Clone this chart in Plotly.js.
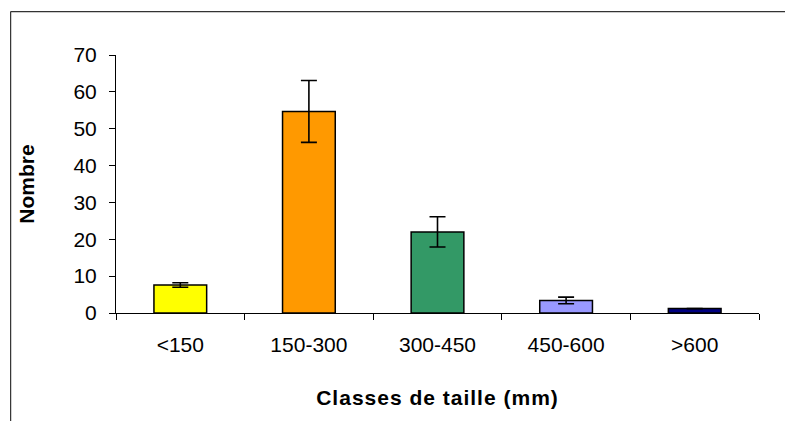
<!DOCTYPE html>
<html>
<head>
<meta charset="utf-8">
<script src="https://cdn.plot.ly/plotly-3.0.1.min.js"></script>
<style>
  html, body { margin: 0; padding: 0; background: #fff; }
  #chart { width: 785px; height: 421px; }
  #chart .xtitle { letter-spacing: 1px; }
</style>
</head>
<body>
<div id="chart"></div>
<script>
const classes = ['<150', '150-300', '300-450', '450-600', '>600'];
const nombre = [7.6, 54.7, 22.0, 3.4, 1.2];
const erreur = [0.6, 8.4, 4.1, 0.9, 0];
const couleurs = ['#FFFF00', '#FF9900', '#339966', '#9999FF', '#000080'];
const yTicks = [0, 10, 20, 30, 40, 50, 60, 70];

document.addEventListener('DOMContentLoaded', function() {
    const chart = document.getElementById('chart');
    const police = 'Arial, "Liberation Sans", sans-serif';

    // plot area in pixels: x 115.5 -> 759.3, y 55 -> 313.3
    const marge = { l: 115.5, r: 25.7, t: 55, b: 107.7 };
    const largeur = 785 - marge.l - marge.r;
    const hauteur = 421 - marge.t - marge.b;
    // outer frame (left and top edges of the chart area)
    const cadreX = (10 - marge.l) / largeur;
    const cadreY = (421 - marge.b - 11.5) / hauteur;

    Plotly.newPlot(chart, [
        {
            type: 'bar',
            x: classes,
            y: nombre,
            width: 0.41,
            marker: { color: couleurs, line: { color: '#000', width: 1.5 } },
            error_y: { type: 'data', array: erreur, visible: true, color: '#000', thickness: 1.6, width: 8 },
            hoverinfo: 'x+y'
        }
    ], {
        width: 785,
        height: 421,
        margin: marge,
        paper_bgcolor: '#fff',
        plot_bgcolor: '#fff',
        showlegend: false,
        font: { family: police, size: 21, color: '#000' },
        xaxis: {
            type: 'category',
            showline: true,
            linecolor: '#000',
            linewidth: 1,
            ticks: 'outside',
            tickson: 'boundaries',
            ticklen: 6,
            tickcolor: '#000',
            ticklabelstandoff: 13,
            showgrid: false,
            zeroline: false,
            tickfont: { family: police, size: 21, color: '#000' },
            title: { text: 'Classes de taille (mm)', font: { family: police, size: 21, color: '#000', weight: 'bold' }, standoff: 35 }
        },
        yaxis: {
            range: [0, 70],
            tickvals: yTicks,
            showline: true,
            linecolor: '#000',
            linewidth: 1,
            ticks: 'outside',
            ticklen: 6,
            tickcolor: '#000',
            ticklabelstandoff: 8,
            showgrid: false,
            zeroline: false,
            tickfont: { family: police, size: 21, color: '#000' },
            title: { text: 'Nombre', font: { family: police, size: 21, color: '#000', weight: 'bold' }, standoff: 33 }
        },
        shapes: [
            { type: 'line', xref: 'paper', yref: 'paper', x0: cadreX, x1: cadreX, y0: -1, y1: cadreY, line: { color: '#333', width: 1.2 } },
            { type: 'line', xref: 'paper', yref: 'paper', x0: cadreX, x1: 1.2, y0: cadreY, y1: cadreY, line: { color: '#333', width: 1.2 } }
        ]
    }, { displayModeBar: false, staticPlot: true });
});
</script>
</body>
</html>
